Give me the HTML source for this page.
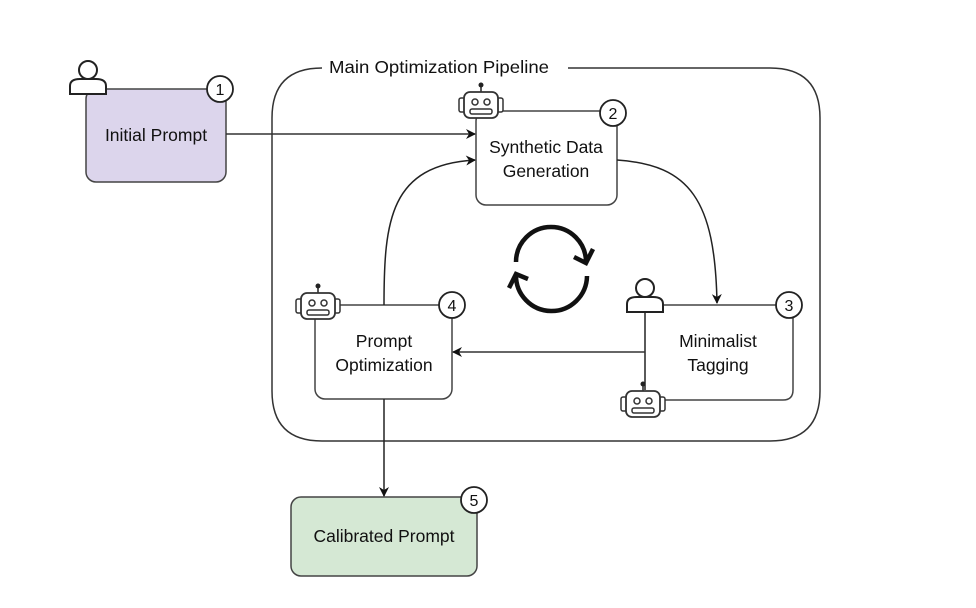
<!DOCTYPE html>
<html><head><meta charset="utf-8"><style>
html,body{margin:0;padding:0;background:#fff;}
svg{display:block;}
text{font-family:"Liberation Sans",Arial,sans-serif;fill:#111;}
</style></head><body>
<svg width="976" height="608" viewBox="0 0 976 608" xmlns="http://www.w3.org/2000/svg">
<defs>
<marker id="ah" markerWidth="10" markerHeight="10" refX="9" refY="5" orient="auto" markerUnits="userSpaceOnUse">
<path d="M0,0 L10,5 L0,10 L3,5 Z" fill="#111"/>
</marker>
<g id="robot">
<line x1="0" y1="-18" x2="0" y2="-11" stroke="#222" stroke-width="1.5"/>
<circle cx="0" cy="-19" r="2.5" fill="#222"/>
<rect x="-22" y="-6" width="6" height="14" rx="2" fill="#fff" stroke="#333" stroke-width="1.5"/>
<rect x="16" y="-6" width="6" height="14" rx="2" fill="#fff" stroke="#333" stroke-width="1.5"/>
<rect x="-17" y="-12" width="34" height="26" rx="6" fill="#fff" stroke="#333" stroke-width="1.8"/>
<circle cx="-6" cy="-2" r="3" fill="#fff" stroke="#333" stroke-width="1.5"/>
<circle cx="6" cy="-2" r="3" fill="#fff" stroke="#333" stroke-width="1.5"/>
<rect x="-11" y="5" width="22" height="5" rx="2" fill="#fff" stroke="#333" stroke-width="1.5"/>
</g>
<g id="person">
<circle cx="0" cy="-10" r="9" fill="#fff" stroke="#222" stroke-width="2"/>
<path d="M-18,14 L-18,6 Q-18,-1 -8,-1 L8,-1 Q18,-1 18,6 L18,14 Z" fill="#fff" stroke="#222" stroke-width="2"/>
</g>
</defs>

<path d="M322,68 L558,68 M322,68 Q272,68 272,118 L272,391 Q272,441 322,441 L770,441 Q820,441 820,391 L820,118 Q820,68 770,68 L568,68" fill="none" stroke="#333" stroke-width="1.5"/>
<rect x="322" y="56" width="236" height="22" fill="#fff"/>
<text x="329" y="73" font-size="17.5" textLength="220" lengthAdjust="spacingAndGlyphs">Main Optimization Pipeline</text>

<rect x="86" y="89" width="140" height="93" rx="10" fill="#dcd5ec" stroke="#444" stroke-width="1.5"/>
<text x="156" y="141" font-size="17.5" text-anchor="middle">Initial Prompt</text>
<use href="#person" x="88" y="80"/>
<circle cx="220" cy="89" r="13" fill="#fff" stroke="#222" stroke-width="1.8"/>
<text x="220" y="95" font-size="16" text-anchor="middle">1</text>

<rect x="476" y="111" width="141" height="94" rx="10" fill="#fff" stroke="#444" stroke-width="1.5"/>
<text x="546" y="153" font-size="17.5" text-anchor="middle">Synthetic Data</text>
<text x="546" y="177" font-size="17.5" text-anchor="middle">Generation</text>
<use href="#robot" x="481" y="104"/>
<circle cx="613" cy="113" r="13" fill="#fff" stroke="#222" stroke-width="1.8"/>
<text x="613" y="119" font-size="16" text-anchor="middle">2</text>

<rect x="315" y="305" width="137" height="94" rx="10" fill="#fff" stroke="#444" stroke-width="1.5"/>
<text x="384" y="347" font-size="17.5" text-anchor="middle">Prompt</text>
<text x="384" y="371" font-size="17.5" text-anchor="middle">Optimization</text>
<use href="#robot" x="318" y="305"/>
<circle cx="452" cy="305" r="13" fill="#fff" stroke="#222" stroke-width="1.8"/>
<text x="452" y="311" font-size="16" text-anchor="middle">4</text>

<path d="M645,305 L793,305 L793,390 Q793,400 783,400 L645,400" fill="none" stroke="#444" stroke-width="1.5"/>
<line x1="645" y1="305" x2="645" y2="390" stroke="#222" stroke-width="1.5"/>
<text x="718" y="347" font-size="17.5" text-anchor="middle">Minimalist</text>
<text x="718" y="371" font-size="17.5" text-anchor="middle">Tagging</text>
<use href="#person" x="645" y="298"/>
<use href="#robot" x="643" y="403"/>
<circle cx="789" cy="305" r="13" fill="#fff" stroke="#222" stroke-width="1.8"/>
<text x="789" y="311" font-size="16" text-anchor="middle">3</text>

<rect x="291" y="497" width="186" height="79" rx="10" fill="#d5e8d4" stroke="#444" stroke-width="1.5"/>
<text x="384" y="542" font-size="17.5" text-anchor="middle">Calibrated Prompt</text>
<circle cx="474" cy="500" r="13" fill="#fff" stroke="#222" stroke-width="1.8"/>
<text x="474" y="506" font-size="16" text-anchor="middle">5</text>

<line x1="226" y1="134" x2="475" y2="134" stroke="#333" stroke-width="1.5" marker-end="url(#ah)"/>
<path d="M384,305 C384,220 390,165 475,160" fill="none" stroke="#222" stroke-width="1.5" marker-end="url(#ah)"/>
<path d="M617,160 C690,165 715,200 717,303" fill="none" stroke="#222" stroke-width="1.5" marker-end="url(#ah)"/>
<line x1="645" y1="352" x2="453" y2="352" stroke="#333" stroke-width="1.5" marker-end="url(#ah)"/>
<line x1="384" y1="399" x2="384" y2="496" stroke="#222" stroke-width="1.5" marker-end="url(#ah)"/>

<g fill="none" stroke="#111" stroke-width="4.5" stroke-linecap="butt" stroke-linejoin="miter">
<path d="M516,262 A35,35 0 0 1 586,262"/>
<path d="M574,257 L586,263 L593,249"/>
<path d="M587,276 A35,35 0 0 1 516,275"/>
<path d="M528,279 L516,274 L509,288"/>
</g>
</svg>
</body></html>
